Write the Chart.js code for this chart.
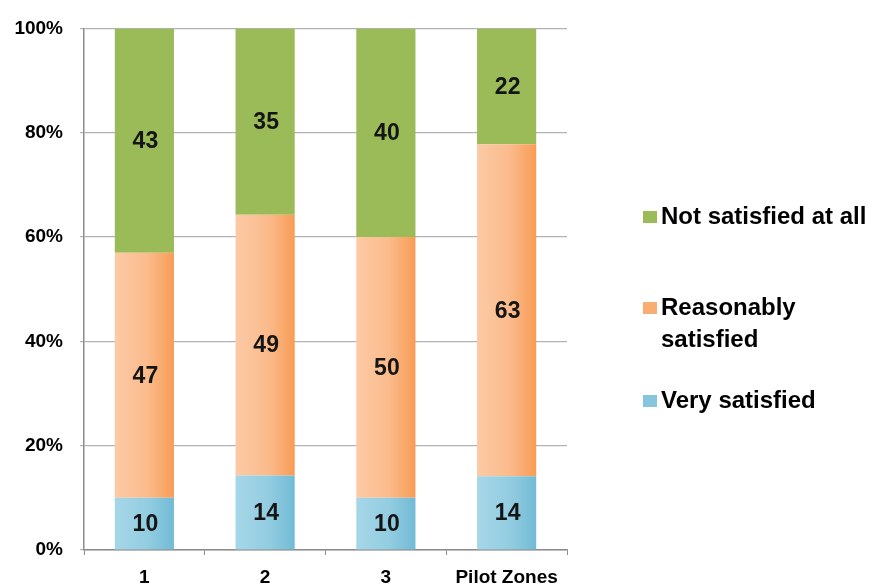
<!DOCTYPE html>
<html>
<head>
    <title>Satisfaction by Zone</title>
    <script src="https://cdn.jsdelivr.net/npm/chart.js"></script>
    <style>
        html, body {
            margin: 0;
            padding: 0;
            background-color: #ffffff;
        }
        #wrap {
            width: 879px;
            height: 584px;
        }
    </style>
</head>
<body>

    <div id="wrap">
        <canvas id="satisfactionChart" width="879" height="584"></canvas>
    </div>

    <script>
        // survey counts per zone
        const categories = ['1', '2', '3', 'Pilot Zones'];
        const verySatisfied = [10, 14, 10, 14];
        const reasonablySatisfied = [47, 49, 50, 63];
        const notSatisfied = [43, 35, 40, 22];
        const yTicks = [0, 20, 40, 60, 80, 100];

        const seriesNames = ['Very satisfied', 'Reasonably satisfied', 'Not satisfied at all'];
        const seriesCounts = [verySatisfied, reasonablySatisfied, notSatisfied];

        // each zone is shown as 100% stacked
        const totals = categories.map((c, i) => seriesCounts.reduce((s, arr) => s + arr[i], 0));
        const toShare = arr => arr.map((v, i) => v / totals[i] * 100);

        const barPct = 0.49;

        function barGradient(context, stops, fallback) {
            const chart = context.chart;
            const xScale = chart.scales.x;
            if (!xScale || !chart.chartArea) {
                return fallback;
            }
            const cx = xScale.getPixelForValue(context.dataIndex);
            const half = xScale.width / categories.length * barPct / 2;
            const g = chart.ctx.createLinearGradient(cx - half, 0, cx + half, 0);
            stops.forEach(s => g.addColorStop(s[0], s[1]));
            return g;
        }

        // numbers inside each segment
        const segmentLabels = {
            id: 'segmentLabels',
            afterDatasetsDraw(chart) {
                const ctx = chart.ctx;
                ctx.save();
                ctx.font = 'bold 23px Arial, "Liberation Sans", sans-serif';
                ctx.fillStyle = '#151515';
                ctx.textAlign = 'center';
                ctx.textBaseline = 'middle';
                chart.data.datasets.forEach((ds, di) => {
                    const meta = chart.getDatasetMeta(di);
                    meta.data.forEach((bar, i) => {
                        const y = (bar.y + bar.base) / 2;
                        ctx.fillText(String(seriesCounts[di][i]), bar.x + 1, y + 1);
                    });
                });
                ctx.restore();
            }
        };

        // legend on the right, top to bottom in reverse stacking order
        const sideLegend = {
            id: 'sideLegend',
            afterDraw(chart) {
                const ctx = chart.ctx;
                const items = [
                    { lines: ['Not satisfied at all'], color: '#9bbb59', y: 217 },
                    { lines: ['Reasonably', 'satisfied'], color: '#f9ad73', y: 308 },
                    { lines: ['Very satisfied'], color: '#86c6dc', y: 401 }
                ];
                ctx.save();
                ctx.font = 'bold 24px Arial, "Liberation Sans", sans-serif';
                ctx.textAlign = 'left';
                ctx.textBaseline = 'middle';
                items.forEach(item => {
                    ctx.fillStyle = item.color;
                    ctx.fillRect(643, item.y - 6, 14, 12);
                    ctx.fillStyle = '#000000';
                    item.lines.forEach((line, k) => {
                        ctx.fillText(line, 661, item.y + k * 32);
                    });
                });
                ctx.restore();
            }
        };

        const config = {
            type: 'bar',
            data: {
                labels: categories,
                datasets: [
                    {
                        label: seriesNames[0],
                        data: toShare(verySatisfied),
                        backgroundColor: c => barGradient(c, [[0, '#a6d7e7'], [0.55, '#93cde1'], [1, '#72bbd5']], '#8cc9df')
                    },
                    {
                        label: seriesNames[1],
                        data: toShare(reasonablySatisfied),
                        backgroundColor: c => barGradient(c, [[0, '#fccaa5'], [0.55, '#fbbb8c'], [1, '#f89c55']], '#f9b27c')
                    },
                    {
                        label: seriesNames[2],
                        data: toShare(notSatisfied),
                        backgroundColor: '#9bbb59'
                    }
                ]
            },
            options: {
                responsive: false,
                animation: false,
                events: [],
                layout: {
                    padding: { top: 25, right: 312, left: 0, bottom: 0 }
                },
                datasets: {
                    bar: {
                        barPercentage: barPct,
                        categoryPercentage: 1,
                        borderWidth: 0
                    }
                },
                plugins: {
                    legend: { display: false },
                    tooltip: { enabled: false }
                },
                scales: {
                    x: {
                        stacked: true,
                        border: { display: true, color: '#8c8c8c', width: 1.5 },
                        grid: {
                            offset: true,
                            drawOnChartArea: false,
                            drawTicks: true,
                            tickLength: 5,
                            color: '#8c8c8c'
                        },
                        ticks: {
                            color: '#000000',
                            padding: 11,
                            font: { family: 'Arial, "Liberation Sans", sans-serif', size: 19, weight: 'bold' }
                        },
                        afterFit(scale) {
                            scale.height = 34;
                        }
                    },
                    y: {
                        stacked: true,
                        min: 0,
                        max: 100,
                        border: { display: true, color: '#8c8c8c', width: 1.5 },
                        grid: {
                            color: '#b3b3b3',
                            lineWidth: 1.2,
                            tickLength: 4
                        },
                        afterBuildTicks(scale) {
                            scale.ticks = yTicks.map(v => ({ value: v }));
                        },
                        ticks: {
                            color: '#000000',
                            padding: 17,
                            callback: v => v + '%',
                            font: { family: 'Arial, "Liberation Sans", sans-serif', size: 19, weight: 'bold' }
                        },
                        afterFit(scale) {
                            scale.width = 84;
                        }
                    }
                }
            },
            plugins: [segmentLabels, sideLegend]
        };

        const ctx = document.getElementById('satisfactionChart').getContext('2d');
        const satisfactionChart = new Chart(ctx, config);
    </script>
</body>
</html>
